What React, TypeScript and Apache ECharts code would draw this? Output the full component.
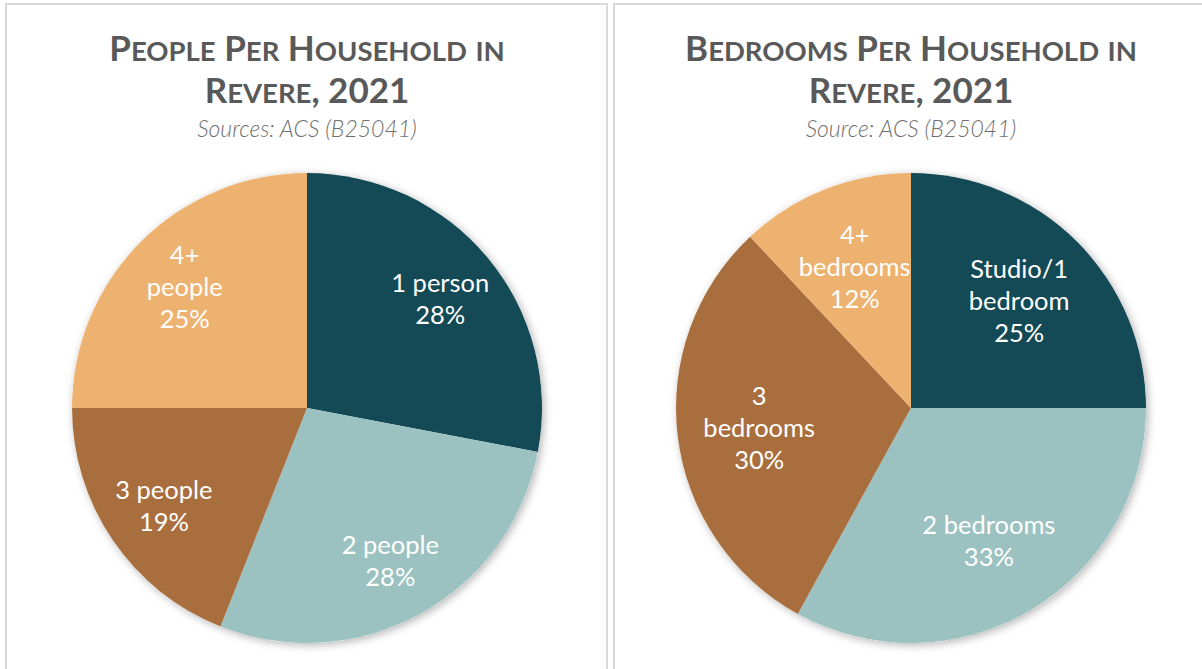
import React, { useEffect, useRef } from "react";
import * as echarts from "echarts";

const peopleCategories = ["1 person", "2 people", "3 people", "4+\npeople"];
const peopleValues = [28, 28, 19, 25];
const bedroomCategories = ["Studio/1\nbedroom", "2 bedrooms", "3\nbedrooms", "4+\nbedrooms"];
const bedroomValues = [25, 33, 30, 12];
const sliceColors = ["#134A56", "#9BC2C0", "#A96E3E", "#EDB26F"];
const peopleTitle = ["People Per Household in", "Revere, 2021"];
const bedroomTitle = ["Bedrooms Per Household in", "Revere, 2021"];
const peopleSource = "Sources: ACS (B25041)";
const bedroomSource = "Source: ACS (B25041)";

const FONT = "Lato, 'Noto Sans', sans-serif";

function smallCaps(s: string): string {
  let out = "";
  let i = 0;
  while (i < s.length) {
    const lower = /[a-z]/.test(s[i]);
    let j = i;
    while (j < s.length && /[a-z]/.test(s[j]) === lower) j++;
    const seg = s.slice(i, j);
    out += lower ? `{s|${seg.toUpperCase()}}` : `{b|${seg}}`;
    i = j;
  }
  return out;
}

const titleRich = {
  b: { fontSize: 35, fontWeight: "bold", fontFamily: FONT, fill: "#595959", verticalAlign: "bottom", lineHeight: 40 },
  s: { fontSize: 27.5, fontWeight: "bold", fontFamily: FONT, fill: "#595959", verticalAlign: "bottom", lineHeight: 40 },
};

function titleGraphics(lines: string[], source: string, cx: number) {
  return [
    {
      type: "text",
      x: cx,
      y: 44,
      style: { text: smallCaps(lines[0]), rich: titleRich, align: "center", verticalAlign: "middle" },
    },
    {
      type: "text",
      x: cx,
      y: 86,
      style: { text: smallCaps(lines[1]), rich: titleRich, align: "center", verticalAlign: "middle" },
    },
    {
      type: "text",
      x: cx,
      y: 128,
      style: {
        text: source,
        fontSize: 23,
        fontStyle: "italic",
        fontWeight: 300,
        fontFamily: FONT,
        fill: "#6F6F6F",
        align: "center",
        verticalAlign: "middle",
      },
    },
  ];
}

function pieSeries(names: string[], values: number[], cx: number, labelInner: number) {
  const center = [cx, 408];
  const R = 235;
  return [
    {
      type: "pie",
      center,
      radius: [0, R],
      silent: true,
      z: 1,
      label: { show: false },
      labelLine: { show: false },
      emphasis: { disabled: true },
      itemStyle: {
        color: "#ffffff",
        shadowBlur: 8,
        shadowColor: "rgba(0,0,0,0.3)",
        shadowOffsetX: 2,
        shadowOffsetY: 2,
      },
      data: [{ value: 1, name: "" }],
    },
    {
      type: "pie",
      center,
      radius: [0, R],
      startAngle: 90,
      clockwise: true,
      z: 2,
      label: { show: false },
      labelLine: { show: false },
      emphasis: { disabled: true },
      itemStyle: { borderWidth: 0 },
      data: names.map((n, i) => ({ name: n, value: values[i], itemStyle: { color: sliceColors[i] } })),
    },
    {
      type: "pie",
      center,
      radius: [labelInner, R],
      startAngle: 90,
      clockwise: true,
      z: 3,
      silent: true,
      emphasis: { disabled: true },
      labelLine: { show: false },
      itemStyle: { color: "rgba(0,0,0,0)", borderWidth: 0 },
      label: {
        show: true,
        position: "inside",
        formatter: "{b}\n{c}%",
        color: "#ffffff",
        fontSize: 25.5,
        lineHeight: 32,
        fontFamily: FONT,
        align: "center",
      },
      data: names.map((n, i) => ({ name: n, value: values[i] })),
    },
  ];
}

export default function App() {
  const ref = useRef<HTMLDivElement>(null);
  useEffect(() => {
    if (!ref.current) return;
    const chart = echarts.init(ref.current, null, { renderer: "svg" });
    chart.setOption({
      animation: false,
      backgroundColor: "#ffffff",
      graphic: [
        {
          type: "rect",
          shape: { x: 6, y: 4, width: 601, height: 720 },
          style: { fill: "none", stroke: "#D9D9D9", lineWidth: 2 },
        },
        {
          type: "rect",
          shape: { x: 614, y: 4, width: 620, height: 720 },
          style: { fill: "none", stroke: "#D9D9D9", lineWidth: 2 },
        },
        ...titleGraphics(peopleTitle, peopleSource, 307),
        ...titleGraphics(bedroomTitle, bedroomSource, 911),
      ],
      series: [
        ...pieSeries(peopleCategories, peopleValues, 307, 105),
        ...pieSeries(bedroomCategories, bedroomValues, 911, 65),
      ],
    });
    return () => chart.dispose();
  }, []);
  return (
    <div
      ref={ref}
      style={{ position: "fixed", left: 0, top: 0, width: 1202, height: 669, background: "#fff" }}
    />
  );
}
